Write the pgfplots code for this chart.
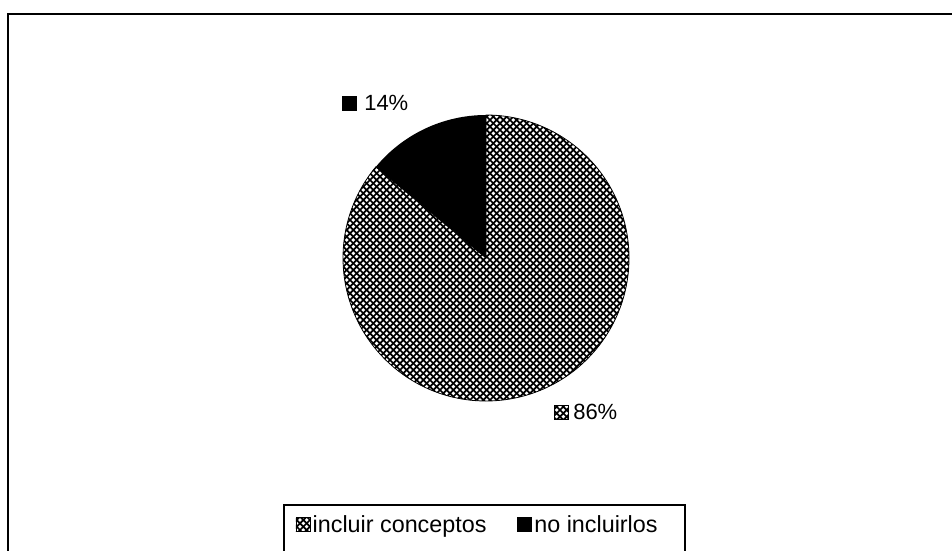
\documentclass[border=0pt]{standalone}
\usepackage{fontspec}
\setmainfont{Liberation Sans}
\usepackage{pgfplots}
\pgfplotsset{compat=1.18}
\usepackage{pgfplotstable}
\usetikzlibrary{patterns.meta}

\tikzdeclarepattern{
  name=xhatch,
  type=uncolored,
  bottom left={(-.5pt,-.5pt)},
  top right={(5.5pt,5.5pt)},
  tile size={(5pt,5pt)},
  code={\draw[line width=1.3pt] (0,0)--(5pt,5pt) (0,5pt)--(5pt,0);}
}

\pgfplotstableread{
slice share
incluir 86
no 14
}\pietable

\begin{document}
\begin{tikzpicture}
\pgfplotstablegetelem{1}{share}\of\pietable
\pgfmathsetmacro\angB{90+3.6*\pgfplotsretval}
\def\R{107.25pt}
\begin{axis}[
  scale only axis, width=714pt, height=412.5pt,
  xmin=0, xmax=952, ymin=0, ymax=550, y dir=reverse,
  hide axis, clip=false,
  legend columns=2,
  legend style={draw=none, fill=none,
    at={(0.502,0.0445)}, anchor=center,
    font=\fontsize{17.5}{20}\selectfont,
    /tikz/every even column/.append style={column sep=21pt}},
]
\addlegendimage{legend image code/.code={\draw[black, fill=white, postaction={pattern=xhatch}] (0pt,-4.5pt) rectangle (10.5pt,6pt);}}
\addlegendentry{incluir conceptos}
\addlegendimage{legend image code/.code={\fill[black] (0pt,-4.5pt) rectangle (10.5pt,6pt);}}
\addlegendentry{no incluirlos}

% slices
\draw[black, line width=0.6pt, fill=white, postaction={pattern=xhatch}]
  (axis cs:486,258) -- ++(\angB:\R) arc[start angle=\angB, end angle=450, radius=\R] -- cycle;
\fill[black] (axis cs:486,258) -- ++(90:\R) arc[start angle=90, end angle=\angB, radius=\R] -- cycle;

% data labels
\fill[black] (axis cs:342,96) rectangle (axis cs:357,111);
\node[anchor=base west, inner sep=0pt, font=\fontsize{16.5}{19}\selectfont] at (axis cs:364,110) {14\%};
\draw[black, fill=white, postaction={pattern=xhatch}] (axis cs:554,405) rectangle (axis cs:568,419);
\node[anchor=base west, inner sep=0pt, font=\fontsize{16.5}{19}\selectfont] at (axis cs:573,419) {86\%};

% frame and legend box
\draw[line width=1pt] (axis cs:8,600) -- (axis cs:8,14) -- (axis cs:1000,14);
\draw[line width=0.8pt] (axis cs:284,505) rectangle (axis cs:685,600);

\coordinate (bbA) at (axis cs:0,550);
\coordinate (bbB) at (axis cs:952,0);
\end{axis}
\pgfresetboundingbox
\path[use as bounding box] (bbA) rectangle (bbB);
\end{tikzpicture}
\end{document}
